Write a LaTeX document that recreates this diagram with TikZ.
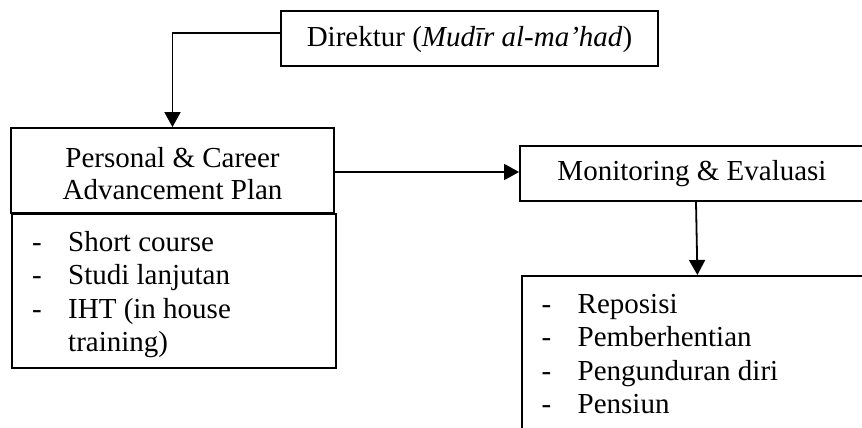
\documentclass[tikz,border=0pt]{standalone}
\usepackage{fontspec}
\setmainfont{Liberation Serif}
\usetikzlibrary{arrows.meta}
\tikzset{
  box/.style={draw=black, line width=1.8pt, rectangle, inner sep=0pt, fill=none},
  conn/.style={line width=1.8pt, -{Triangle[width=16pt,length=15pt]}},
  lbl/.style={font=\fontsize{29}{32}\selectfont, align=center, inner sep=0pt},
  listtxt/.style={font=\fontsize{29}{33.5}\selectfont, inner sep=0pt, anchor=base west}
}
\newcommand{\mylist}[1]{\begin{tabular}[t]{@{}p{36pt}@{}l@{}}#1\end{tabular}}
\begin{document}
\begin{tikzpicture}[x=1pt,y=-1pt]
\useasboundingbox (0,0) rectangle (862,428);
\clip (0,0) rectangle (862,428);
% boxes
\node[box, minimum width=377pt, minimum height=55pt] (dir) at (469.5,38.5) {};
\node[lbl] (dirt) at (469.5,40) {Direktur (\textit{Mudīr al-ma’had})};
\node[box, minimum width=323pt, minimum height=85pt] (pcap) at (172.5,170.5) {};
\node[lbl] (pcapt) at (172.5,174) {Personal \& Career\\Advancement Plan};
\node[box, minimum width=324pt, minimum height=154pt, anchor=north west] (l1) at (11,213) {};
\node[listtxt] (l1t) at (32,251) {\mylist{-&Short course\\-&Studi lanjutan\\-&IHT (in house\\&training)}};
\node[box, minimum width=352pt, minimum height=55pt] (mon) at (696,173.5) {};
\node[lbl] (mont) at (692,174) {Monitoring \& Evaluasi};
\node[box, minimum width=351pt, minimum height=170pt, anchor=north west] (l2) at (521,275) {};
\node[listtxt] (l2t) at (541.5,313) {\mylist{-&Reposisi\\-&Pemberhentian\\-&Pengunduran diri\\-&Pensiun}};
% connectors
\draw[conn] ([yshift=5.5pt]dir.west) -| (pcap.north);
\draw[conn] (pcap.east |- 0,172) -- (mon.west |- 0,172);
\draw[conn] (mon.south) -- (l2.north);
\end{tikzpicture}
\end{document}
